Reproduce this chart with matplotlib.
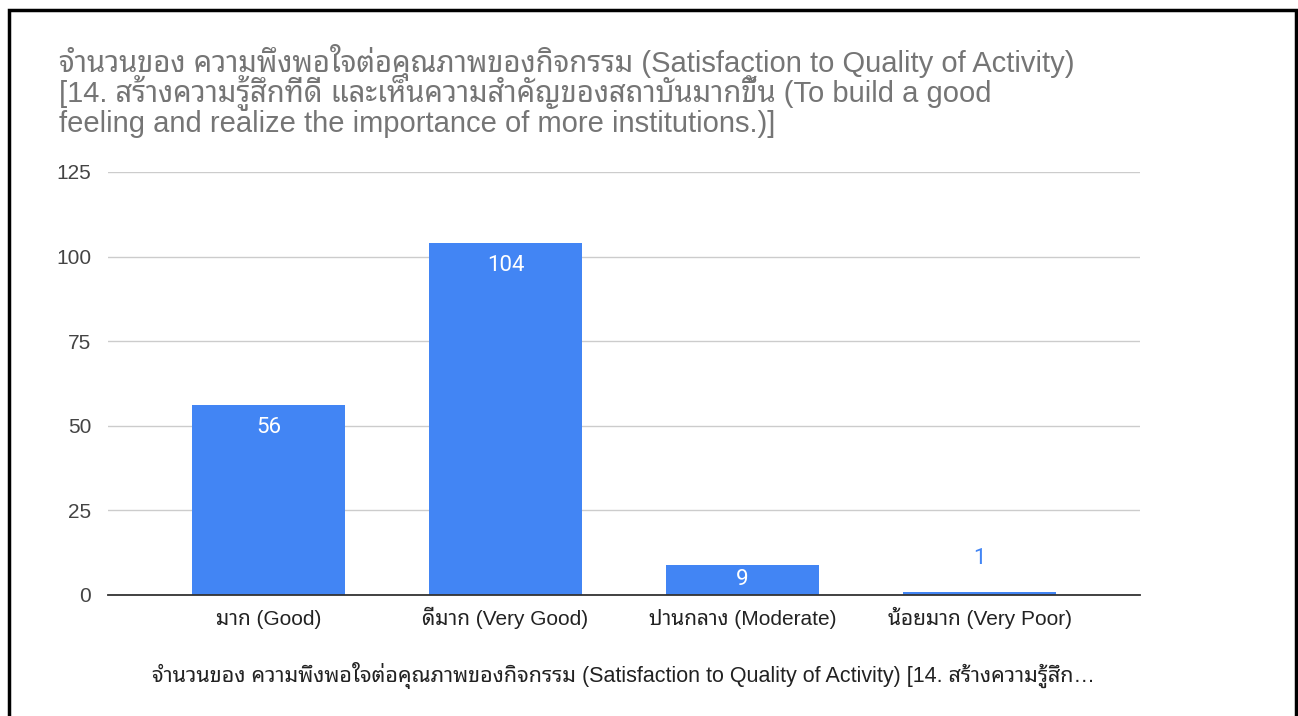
import matplotlib
matplotlib.use('Agg')
import matplotlib.pyplot as plt
from matplotlib.patches import Rectangle

FONT = ['Liberation Sans', 'Noto Sans Thai Looped']
LABEL_FONT = ['Roboto', 'Noto Sans Thai Looped']
plt.rcParams['font.family'] = FONT

categories = ['มาก (Good)', 'ดีมาก (Very Good)', 'ปานกลาง (Moderate)', 'น้อยมาก (Very Poor)']
values = [56, 104, 9, 1]
yticks = [0, 25, 50, 75, 100, 125]
title_lines = [
    'จำนวนของ ความพึงพอใจต่อคุณภาพของกิจกรรม (Satisfaction to Quality of Activity)',
    '[14. สร้างความรู้สึกที่ดี และเห็นความสำคัญของสถาบันมากขึ้น (To build a good',
    'feeling and realize the importance of more institutions.)]',
]
x_title = 'จำนวนของ ความพึงพอใจต่อคุณภาพของกิจกรรม (Satisfaction to Quality of Activity) [14. สร้างความรู้สึก…'

W, H = 1298, 716
fig = plt.figure(figsize=(W / 100, H / 100), dpi=100)
fig.patch.set_facecolor('white')

ax = fig.add_axes([108 / W, (H - 595) / H, (1140 - 108) / W, (595 - 172) / H])
BLUE = '#4285F4'
xs = list(range(len(values)))
ax.bar(xs, values, width=0.645, color=BLUE, zorder=3)
ax.set_xlim(-0.677, len(values) - 1 + 0.677)
ax.set_ylim(0, 125)
ax.set_yticks(yticks)
ax.set_yticklabels([str(t) for t in yticks], fontsize=15, color='#444444')
ax.set_xticks(xs)
ax.set_xticklabels(categories, fontsize=15, color='#222222')
ax.tick_params(axis='both', length=0)
ax.tick_params(axis='y', pad=12)
ax.tick_params(axis='x', pad=21.5)
for lab in ax.get_xticklabels():
    lab.set_va('baseline')
for s in ['top', 'right', 'left']:
    ax.spines[s].set_visible(False)
ax.spines['bottom'].set_color('#333333')
ax.spines['bottom'].set_linewidth(1.3)
ax.spines['bottom'].set_zorder(4)
ax.yaxis.grid(True, color='#cccccc', linewidth=1)
ax.set_axisbelow(True)

px_per_unit = (595 - 172) / 125
for xi, v in zip(xs, values):
    hpx = v * px_per_unit
    if hpx > 40:
        ax.annotate(str(v), (xi, v), xytext=(0, -16), textcoords='offset points',
                    ha='center', va='center', color='white', fontsize=16,
                    family=LABEL_FONT, zorder=5)
    elif hpx > 20:
        ax.annotate(str(v), (xi, v / 2), ha='center', va='center', color='white',
                    fontsize=16, family=LABEL_FONT, zorder=5)
    else:
        ax.annotate(str(v), (xi, v), xytext=(0, 24), textcoords='offset points',
                    ha='center', va='center', color=BLUE, fontsize=16,
                    family=LABEL_FONT, zorder=5)

for i, line in enumerate(title_lines):
    fig.text(59 / W, 1 - (72 + 30 * i) / H, line, fontsize=21, color='#757575',
             ha='left', va='baseline')

fig.text(623 / W, 1 - 682 / H, x_title, fontsize=15.5, color='#222222',
         ha='center', va='baseline')

fig.add_artist(Rectangle((9 / W, -0.02), (1296 - 9) / W, (H - 10) / H + 0.02,
                         transform=fig.transFigure, fill=False, edgecolor='black',
                         linewidth=2.5, clip_on=False))

fig.savefig('out.png', dpi=100, facecolor='white')
